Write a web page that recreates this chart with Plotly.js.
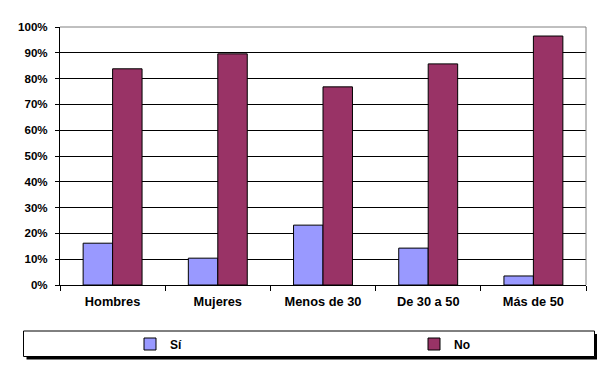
<!DOCTYPE html>
<html>
<head>
<meta charset="utf-8">
<script src="https://cdn.plot.ly/plotly-3.0.1.min.js"></script>
<style>html,body{margin:0;padding:0;background:#fff;}#chart{width:600px;height:374px;}</style>
</head>
<body>
<div id="chart"></div>
<script>
const categories = ["Hombres", "Mujeres", "Menos de 30", "De 30 a 50", "Más de 50"];
const siValues = [16.2, 10.4, 23.2, 14.3, 3.5];
const noValues = [83.8, 89.6, 76.8, 85.7, 96.5];
const seriesNames = ["Sí", "No"];
const yTickVals = [0, 10, 20, 30, 40, 50, 60, 70, 80, 90, 100];
const yTickText = ["0%", "10%", "20%", "30%", "40%", "50%", "60%", "70%", "80%", "90%", "100%"];

const W = 600, H = 374;
const M = {l: 60, r: 14, t: 27, b: 89};
const pw = W - M.l - M.r, ph = H - M.t - M.b;
const px = x => (x - M.l) / pw;
const py = y => (H - M.b - y) / ph;

const font = {family: "Liberation Sans, Arial, sans-serif", size: 12, color: "#000", weight: 700};
const xFont = Object.assign({}, font, {size: 12.8});
const yFont = Object.assign({}, font, {size: 11.6});

const traces = [
  {type: "bar", name: seriesNames[0], x: categories, y: siValues, legend: "legend",
   marker: {color: "#9999FF", line: {color: "#000", width: 1}}, hoverinfo: "none"},
  {type: "bar", name: seriesNames[1], x: categories, y: noValues, legend: "legend2",
   marker: {color: "#993366", line: {color: "#000", width: 1}}, hoverinfo: "none"}
];

const legendBase = {orientation: "h", xanchor: "left", yanchor: "middle", y: py(344),
  bgcolor: "rgba(0,0,0,0)", borderwidth: 0, font: font};

const layout = {
  width: W, height: H,
  margin: M,
  paper_bgcolor: "#fff", plot_bgcolor: "#fff",
  font: font,
  barmode: "group",
  bargap: 0.44, bargroupgap: 0,
  showlegend: true,
  legend: Object.assign({}, legendBase, {x: px(130)}),
  legend2: Object.assign({}, legendBase, {x: px(414)}),
  xaxis: {type: "category", showline: true, linecolor: "#000", linewidth: 1,
          ticks: "outside", tickson: "boundaries", ticklen: 5, tickcolor: "#000",
          ticklabelstandoff: 5,
          showgrid: false, tickfont: xFont, fixedrange: true},
  yaxis: {range: [0, 100], tickmode: "array", tickvals: yTickVals, ticktext: yTickText,
          showline: true, linecolor: "#000",
          linewidth: 1, ticks: "outside", ticklen: 4, tickcolor: "#000",
          ticklabelstandoff: 5,
          showgrid: true, gridcolor: "#000", gridwidth: 1, zeroline: false, tickfont: yFont, fixedrange: true},
  shapes: [
    {type: "line", xref: "paper", yref: "paper", x0: 0, x1: 1, y0: 1, y1: 1, line: {color: "#808080", width: 1}, layer: "above"},
    {type: "line", xref: "paper", yref: "paper", x0: 1, x1: 1, y0: 0, y1: 1, line: {color: "#808080", width: 1}, layer: "above"},
    {type: "rect", xref: "paper", yref: "paper", x0: px(26.5), x1: px(597), y0: py(359.5), y1: py(334), fillcolor: "#000", line: {width: 0}, layer: "above"},
    {type: "rect", xref: "paper", yref: "paper", x0: px(23.5), x1: px(594.5), y0: py(356.5), y1: py(331), fillcolor: "#fff", line: {color: "#000", width: 1}, layer: "above"}
  ]
};

Plotly.newPlot("chart", traces, layout, {staticPlot: true, displayModeBar: false});
</script>
</body>
</html>
